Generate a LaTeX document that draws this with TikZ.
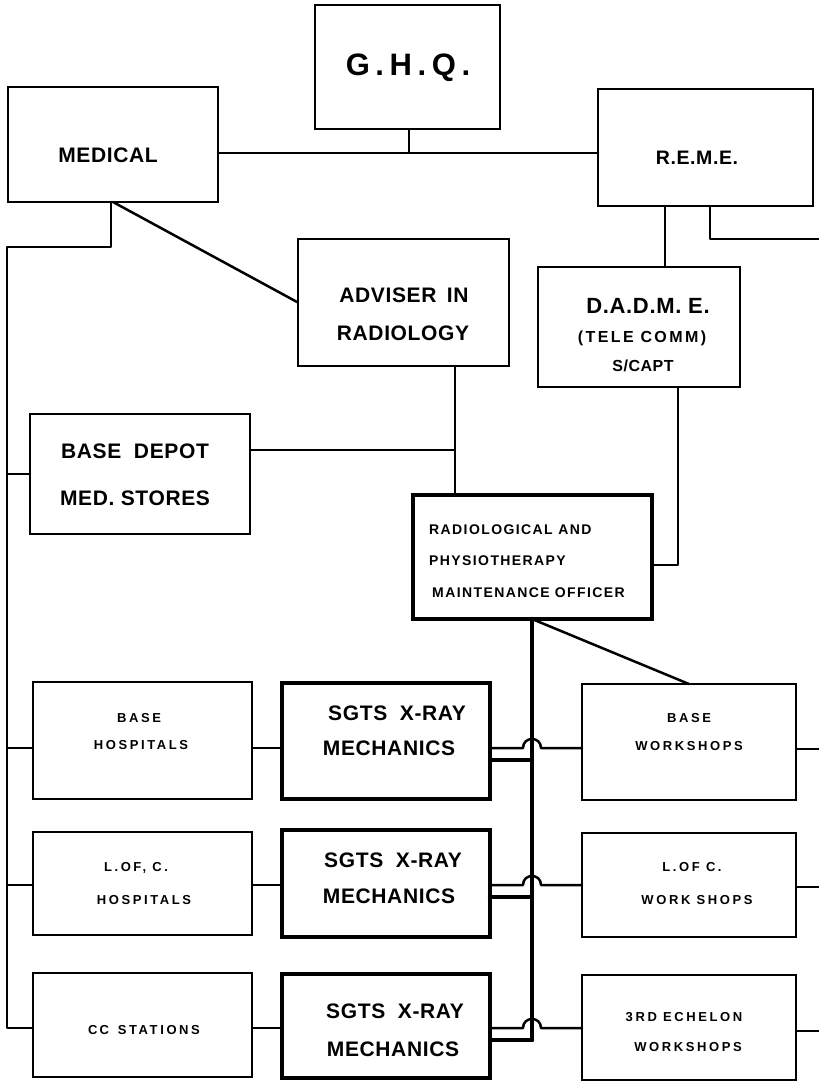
\documentclass[tikz,border=0pt]{standalone}
\usepackage{fontspec}
\setmainfont{Liberation Sans}
\newfontfamily\fgiant{Liberation Sans}[LetterSpace=18]
\newfontfamily\fmain{Liberation Sans}[LetterSpace=3]
\newfontfamily\fwide{Liberation Sans}[LetterSpace=15]
\newfontfamily\fsmall{Liberation Sans}[LetterSpace=20]
\newfontfamily\fofficer{Liberation Sans}[LetterSpace=10]

% rectangle node from its left, top, right and bottom edges
\newcommand{\plate}[6]{%
  \node[#2, minimum width={#5-#3}, minimum height={#6-#4}] (#1)
    at ({(#3+#5)/2},{(#4+#6)/2}) {};}

\tikzset{
  box/.style={draw, line width=2.9pt, inner sep=0pt, outer sep=0pt},
  heavybox/.style={box, line width=4.8pt},
  link/.style={line width=2.5pt, line cap=round, line join=round},
  trunk/.style={line width=4.3pt, line cap=round, line join=round},
  giant/.style={inner sep=0pt, text height=22pt, text depth=0pt,
    font=\fgiant\bfseries\fontsize{31}{31}\selectfont},
  main/.style={inner sep=0pt, text height=15pt, text depth=0pt,
    font=\fmain\bfseries\fontsize{21}{21}\selectfont},
  mid/.style={inner sep=0pt, text height=14pt, text depth=0pt,
    font=\fmain\bfseries\fontsize{19.5}{19.5}\selectfont},
  paren/.style={inner sep=0pt, text height=12pt, text depth=0pt,
    font=\fwide\bfseries\fontsize{16}{16}\selectfont},
  capt/.style={inner sep=0pt, text height=12pt, text depth=0pt,
    font=\fmain\bfseries\fontsize{16}{16}\selectfont},
  officer/.style={inner sep=0pt, anchor=west, text height=10pt, text depth=0pt,
    font=\fofficer\bfseries\fontsize{14}{14}\selectfont},
  small/.style={inner sep=0pt, text height=9.5pt, text depth=0pt,
    font=\fsmall\bfseries\fontsize{13}{13}\selectfont},
}

\begin{document}
\begin{tikzpicture}[x=1pt, y=-1pt]
\useasboundingbox (0,0) rectangle (819,1082);

% ---- boxes ----
\plate{ghq}{box}{315}{5}{500}{129}
\plate{medical}{box}{8}{87}{218}{202}
\plate{reme}{box}{598}{89}{813}{206}
\plate{adviser}{box}{298}{239}{509}{366}
\plate{dadme}{box}{538}{267}{740}{387}
\plate{depot}{box}{30}{414}{250}{534}
\plate{rpmo}{heavybox}{413}{495}{652}{619}
\plate{bhosp}{box}{33}{682}{252}{799}
\plate{sgtsA}{heavybox}{282}{683}{490}{799}
\plate{bws}{box}{582}{684}{796}{800}
\plate{lhosp}{box}{33}{832}{252}{935}
\plate{sgtsB}{heavybox}{282}{830}{490}{937}
\plate{lws}{box}{582}{833}{796}{937}
\plate{cc}{box}{33}{973}{252}{1077}
\plate{sgtsC}{heavybox}{282}{974}{490}{1078}
\plate{ews}{box}{582}{975}{796}{1080}

% ---- labels ----
\node[giant] (tghq) at (408,64) {G.H.Q.};
\node[main] (tmed) at (108,155) {MEDICAL};
\node[mid] (treme) at (697,157) {R.E.M.E.};
\node[main] (tadv1) at (404,295) {ADVISER\hspace{0.5em}IN};
\node[main] (tadv2) at (403,333) {RADIOLOGY};
\node[main, font=\fmain\bfseries\fontsize{22}{22}\selectfont, text height=16pt] (tdad1) at (648,305) {D.A.D.M.\ E.};
\node[paren] (tdad2) at (642,336) {(TELE COMM)};
\node[capt] (tdad3) at (643,365) {S/CAPT};
\node[main] (tdep1) at (135,451) {BASE\hspace{0.6em}DEPOT};
\node[main] (tdep2) at (135,498) {MED.\ STORES};
\node[officer] (trp1) at (429,529) {RADIOLOGICAL\hspace{0.4em}AND};
\node[officer] (trp2) at (429,560) {PHYSIOTHERAPY};
\node[officer] (trp3) at (432,592) {MAINTENANCE OFFICER};
\node[main] (tsa1) at (397,713) {SGTS\hspace{0.6em}X-RAY};
\node[main] (tsa2) at (389,748) {MECHANICS};
\node[main] (tsb1) at (393,860) {SGTS\hspace{0.6em}X-RAY};
\node[main] (tsb2) at (389,896) {MECHANICS};
\node[main] (tsc1) at (395,1011) {SGTS\hspace{0.6em}X-RAY};
\node[main] (tsc2) at (393,1049) {MECHANICS};
\node[small] (tbh1) at (139,718) {BASE};
\node[small] (tbh2) at (141,745) {HOSPITALS};
\node[small] (tlh1) at (136,867) {L.OF, C.};
\node[small] (tlh2) at (144,900) {HOSPITALS};
\node[small] (tcc) at (144,1030) {C\,C\hspace{0.2em} STATIONS};
\node[small] (tbw1) at (689,718) {BASE};
\node[small] (tbw2) at (689,746) {WORKSHOPS};
\node[small] (tlw1) at (692,867) {L.OF C.};
\node[small] (tlw2) at (697,900) {WORK SHOPS};
\node[small] (tew1) at (684,1017) {3RD ECHELON};
\node[small] (tew2) at (688,1047) {WORKSHOPS};

% ---- junction points and free ends ----
\coordinate (hq) at (409,153);
\coordinate (mstem) at (111,247);
\coordinate (lt) at (7,1028);
\coordinate (remeA) at (665,206);
\coordinate (remeB) at (710,239);
\coordinate (remeOut) at (819,239);
\coordinate (advx) at (455,450);
\coordinate (dd) at (678,565);
\coordinate (mt) at (532,1040);
\coordinate (rowA) at (532,748);
\coordinate (rowB) at (532,885);
\coordinate (rowC) at (532,1028);
\coordinate (lowA) at (532,760);
\coordinate (lowB) at (532,897);
\coordinate (outA) at (819,749);
\coordinate (outB) at (819,887);
\coordinate (outC) at (819,1031);

% ---- top level ----
\draw[link] (ghq.south -| hq) -- (hq);
\draw[link] (medical.east |- hq) -- (reme.west |- hq);

% medical side
\draw[link] (medical.south -| mstem) -- (mstem) -- (mstem -| lt) -- (lt) -- (cc.west |- lt);
\draw[link] (lt |- depot.west) -- (depot.west);
\draw[link] (lt |- rowA) -- (bhosp.west |- rowA);
\draw[link] (lt |- rowB) -- (lhosp.west |- rowB);
\draw[link] (medical.south) -- (adviser.west);

% R.E.M.E. side
\draw[link] (reme.south -| remeA) -- (dadme.north -| remeA);
\draw[link] (reme.south -| remeB) -- (remeB) -- (remeOut);
\draw[link] (dadme.south -| dd) -- (dd) -- (rpmo.east |- dd);

% adviser and depot
\draw[link] (adviser.south -| advx) -- (rpmo.north -| advx);
\draw[link] (depot.east |- advx) -- (advx);

% maintenance officer trunk
\draw[trunk] (rpmo.south -| mt) -- (mt);
\draw[link] (rpmo.south -| mt) -- (bws.north);
\draw[trunk] (sgtsA.east |- lowA) -- (lowA);
\draw[trunk] (sgtsB.east |- lowB) -- (lowB);
\draw[trunk] (sgtsC.east |- mt) -- (mt);

% hospital - mechanics - workshop chains, hopping over the trunk
\draw[link] (bhosp.east |- rowA) -- (sgtsA.west |- rowA);
\draw[link] (sgtsA.east |- rowA) -- ([xshift=-9pt]rowA)
  .. controls ([xshift=-9pt,yshift=12pt]rowA) and ([xshift=9pt,yshift=12pt]rowA) .. ([xshift=9pt]rowA)
  -- (bws.west |- rowA);
\draw[link] (lhosp.east |- rowB) -- (sgtsB.west |- rowB);
\draw[link] (sgtsB.east |- rowB) -- ([xshift=-9pt]rowB)
  .. controls ([xshift=-9pt,yshift=12pt]rowB) and ([xshift=9pt,yshift=12pt]rowB) .. ([xshift=9pt]rowB)
  -- (lws.west |- rowB);
\draw[link] (cc.east |- rowC) -- (sgtsC.west |- rowC);
\draw[link] (sgtsC.east |- rowC) -- ([xshift=-9pt]rowC)
  .. controls ([xshift=-9pt,yshift=12pt]rowC) and ([xshift=9pt,yshift=12pt]rowC) .. ([xshift=9pt]rowC)
  -- (ews.west |- rowC);

% workshops onward
\draw[link] (bws.east |- outA) -- (outA);
\draw[link] (lws.east |- outB) -- (outB);
\draw[link] (ews.east |- outC) -- (outC);
\end{tikzpicture}
\end{document}
